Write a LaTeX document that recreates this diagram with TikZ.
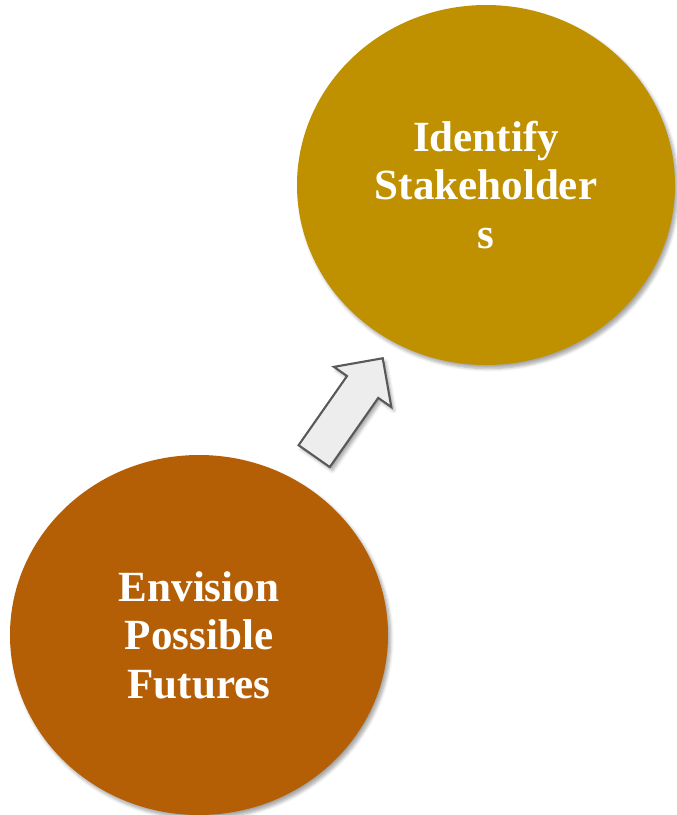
\documentclass[tikz,border=0pt]{standalone}
\usepackage{fontspec}
\setmainfont{Liberation Serif}
\usetikzlibrary{shapes.geometric,shapes.arrows,shadows.blur}
\definecolor{gold}{HTML}{BF9000}
\definecolor{rust}{HTML}{B45F06}
\definecolor{arrfill}{HTML}{EDEDED}
\definecolor{arrline}{HTML}{595959}
\begin{document}
\begin{tikzpicture}
		\tikzstyle{Oval}=[ellipse,minimum width=7.56cm,minimum height=7.2cm,inner sep=0pt,text=white,align=center,font=\bfseries\fontsize{24.5}{27.5}\selectfont,blur shadow={shadow xshift=1.5pt,shadow yshift=-2pt,shadow blur steps=6,shadow opacity=35}]
		\tikzstyle{Arr}=[single arrow,draw=arrline,fill=arrfill,line width=1.2pt,minimum height=2.39cm,inner xsep=0pt,inner ysep=0.36cm,single arrow head extend=0.32cm,blur shadow={shadow xshift=1.5pt,shadow yshift=-2pt,shadow blur steps=4,shadow opacity=35}]
		\useasboundingbox (0,0) rectangle (13.54,-16.3);
		\node[Oval,fill=gold] (stake)   at (9.72,-3.70)  {Identify\\Stakeholder\\s};
		\node[Oval,fill=rust] (futures) at (3.98,-12.70) {Envision\\Possible\\Futures};
		\node[Arr,rotate=55] (arrow) at (6.86,-8.30) {};
		\end{tikzpicture}
\end{document}
